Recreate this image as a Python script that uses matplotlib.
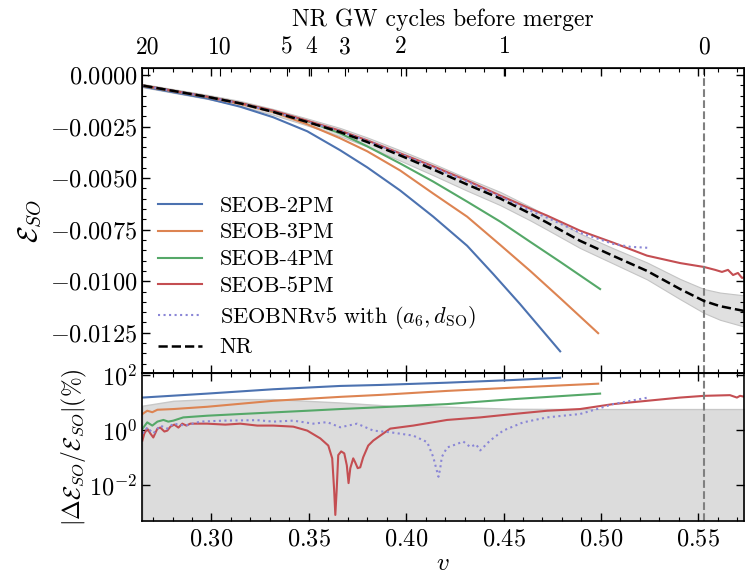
import matplotlib
matplotlib.use("Agg")
import matplotlib.pyplot as plt
from matplotlib.ticker import MultipleLocator, FixedLocator, NullLocator
import numpy as np

plt.rcParams['font.family'] = 'serif'
plt.rcParams['font.serif'] = ['cmr10']
plt.rcParams['mathtext.fontset'] = 'cm'
plt.rcParams['axes.formatter.use_mathtext'] = True
plt.rcParams['axes.unicode_minus'] = True

# ---- top panel: E_SO(v) ----
v_nr = [0.2650, 0.2978, 0.3148, 0.3317, 0.3492, 0.3661, 0.3800, 0.3969, 0.4139, 0.4313,
        0.4483, 0.4637, 0.4724, 0.4893, 0.5063, 0.5237, 0.5407, 0.5530, 0.5612, 0.5740]
e_nr = [-0.00052, -0.00106, -0.00138, -0.00179, -0.00228, -0.00277, -0.00325, -0.00390, -0.00458, -0.00531,
        -0.00599, -0.00672, -0.00716, -0.00804, -0.00877, -0.00950, -0.01038, -0.01096, -0.01121, -0.01145]
e_nr_err = [0.00008, 0.00010, 0.00012, 0.00014, 0.00017, 0.00020, 0.00022, 0.00025, 0.00028, 0.00030,
            0.00032, 0.00033, 0.00034, 0.00035, 0.00037, 0.00041, 0.00049, 0.00058, 0.00066, 0.00076]

v_2pm = [0.2650, 0.2978, 0.3148, 0.3317, 0.3492, 0.3661, 0.3800, 0.3969, 0.4139, 0.4313, 0.4447, 0.4585, 0.4791]
e_2pm = [-0.00057, -0.00114, -0.00154, -0.00205, -0.00273, -0.00365, -0.00448, -0.00560, -0.00687, -0.00828,
         -0.00965, -0.01111, -0.01340]

v_3pm = [0.2650, 0.2978, 0.3148, 0.3317, 0.3492, 0.3661, 0.3800, 0.3969, 0.4139, 0.4313, 0.4483, 0.4637, 0.4791, 0.4986]
e_3pm = [-0.00054, -0.00107, -0.00141, -0.00180, -0.00239, -0.00307, -0.00370, -0.00463, -0.00575, -0.00687,
         -0.00824, -0.00950, -0.01082, -0.01252]

v_4pm = [0.2650, 0.2978, 0.3148, 0.3317, 0.3492, 0.3661, 0.3800, 0.3969, 0.4139, 0.4313, 0.4483, 0.4637, 0.4791, 0.4996]
e_4pm = [-0.00051, -0.00105, -0.00136, -0.00175, -0.00224, -0.00283, -0.00346, -0.00429, -0.00517, -0.00614,
         -0.00711, -0.00809, -0.00906, -0.01038]

v_5pm = [0.2650, 0.2978, 0.3148, 0.3317, 0.3492, 0.3661, 0.3800, 0.3969, 0.4139, 0.4313, 0.4483, 0.4637, 0.4724,
         0.4893, 0.5063, 0.5237, 0.5407, 0.5530, 0.5587, 0.5622, 0.5653, 0.5679, 0.5704, 0.5725, 0.5740]
e_5pm = [-0.00051, -0.00105, -0.00136, -0.00173, -0.00222, -0.00270, -0.00317, -0.00380, -0.00443, -0.00512,
         -0.00585, -0.00648, -0.00682, -0.00755, -0.00813, -0.00876, -0.00912, -0.00931, -0.00945, -0.00955,
         -0.00945, -0.00970, -0.00960, -0.00984, -0.00980]

v_v5 = [0.2650, 0.2978, 0.3148, 0.3317, 0.3492, 0.3661, 0.3800, 0.3969, 0.4139, 0.4313, 0.4483, 0.4637, 0.4724,
        0.4893, 0.5063, 0.5150, 0.5242]
e_v5 = [-0.00052, -0.00106, -0.00138, -0.00178, -0.00227, -0.00273, -0.00319, -0.00383, -0.00448, -0.00517,
        -0.00590, -0.00658, -0.00692, -0.00765, -0.00819, -0.00833, -0.00838]

# ---- bottom panel: relative difference (%) ----
v_d2 = [0.2645, 0.2978, 0.3317, 0.3661, 0.3867, 0.4210, 0.4549, 0.4791]
d_2pm = [14.8, 20.6, 29.6, 39.0, 42.4, 51.2, 64.0, 77.4]

v_d3 = [0.2645, 0.2670, 0.2696, 0.2722, 0.2804, 0.2978, 0.3317, 0.3661, 0.3867, 0.4210, 0.4549, 0.4986]
d_3pm = [3.75, 4.93, 4.36, 5.36, 5.68, 6.87, 11.3, 15.7, 18.5, 25.8, 33.9, 47.1]

v_d4 = [0.2645, 0.2670, 0.2696, 0.2722, 0.2753, 0.2778, 0.2804, 0.2855, 0.2978, 0.3148, 0.3317, 0.3492,
        0.3661, 0.3918, 0.4210, 0.4549, 0.4996]
d_4pm = [1.09, 1.87, 1.43, 1.99, 2.29, 1.99, 2.16, 2.83, 3.26, 3.75, 4.29, 4.93, 5.68, 6.87, 8.59, 12.97, 20.6]

v_d5 = [0.2645, 0.2655, 0.2670, 0.2686, 0.2701, 0.2722, 0.2737, 0.2758, 0.2773, 0.2789, 0.2809, 0.2830,
        0.2850, 0.2871, 0.2891, 0.2978, 0.3071, 0.3148, 0.3235, 0.3317, 0.3420, 0.3492, 0.3559, 0.3600,
        0.3620, 0.3630, 0.3636, 0.3643, 0.3651, 0.3666, 0.3682, 0.3695, 0.3704, 0.3713, 0.3728, 0.3738,
        0.3751, 0.3764, 0.3779, 0.3805, 0.3831, 0.3867, 0.3918, 0.4036, 0.4210, 0.4380, 0.4549, 0.4724,
        0.4893, 0.5063, 0.5237, 0.5407, 0.5530, 0.5663, 0.5699, 0.5715, 0.5740]
d_5pm = [0.41, 0.74, 1.11, 0.74, 0.53, 1.11, 1.21, 0.87, 0.94, 1.31, 1.55, 1.21,
         1.68, 1.43, 1.68, 1.68, 1.55, 1.68, 1.43, 1.43, 1.31, 0.94, 0.49, 0.27,
         0.093, 0.0066, 0.00083, 0.0066, 0.122, 0.166, 0.141, 0.052, 0.0118, 0.041, 0.093, 0.067,
         0.041, 0.044, 0.101, 0.27, 0.41, 0.62, 1.11, 1.43, 2.29, 2.83, 3.75, 4.93,
         5.68, 8.59, 11.3, 14.8, 17.1, 18.1, 14.8, 17.1, 15.7]

v_dv5 = [0.2645, 0.2670, 0.2701, 0.2737, 0.2773, 0.2804, 0.2866, 0.2942, 0.3061, 0.3235, 0.3317, 0.3420,
         0.3523, 0.3594, 0.3661, 0.3748, 0.3831, 0.3918, 0.4036, 0.4108, 0.4139, 0.4154, 0.4166, 0.4175,
         0.4183, 0.4210, 0.4262, 0.4293, 0.4329, 0.4359, 0.4380, 0.4431, 0.4498, 0.4601, 0.4724, 0.4806,
         0.4893, 0.4980, 0.5063, 0.5242]
d_v5 = [0.74, 1.21, 0.74, 1.43, 1.11, 1.68, 1.43, 1.99, 2.16, 2.25, 1.99, 2.16,
        1.68, 1.91, 1.24, 1.68, 0.94, 0.82, 0.62, 0.36, 0.104, 0.041, 0.020, 0.041,
        0.104, 0.23, 0.31, 0.38, 0.24, 0.30, 0.18, 0.41, 0.94, 1.87, 2.83, 3.26,
        3.75, 5.68, 8.59, 14.8]

v_band = [0.2645, 0.2804, 0.2978, 0.3317, 0.3661, 0.3918, 0.4210, 0.4549, 0.4893, 0.5740]
d_band = [7.5, 11.3, 13.0, 13.0, 9.8, 7.5, 6.9, 5.8, 5.68, 5.68]

# top axis: NR GW cycles before merger
cycle_v = [0.2674, 0.3045, 0.3389, 0.3512, 0.3687, 0.3972, 0.4506, 0.5532]
cycle_labels = ['20', '10', '5', '4', '3', '2', '1', '0']
v_merger = 0.5532

colors = ['#4C72B0', '#DD8452', '#55A868', '#C44E52']
v5_color = '#8a86d6'

fig = plt.figure(figsize=(7.45, 5.78), dpi=100)
ax1 = fig.add_axes([0.1906, 0.3547, 0.808, 0.5277])
ax2 = fig.add_axes([0.1906, 0.0986, 0.808, 0.2561], sharex=ax1)

e_nr_a = np.array(e_nr)
err_a = np.array(e_nr_err)
ax1.fill_between(v_nr, e_nr_a - err_a, e_nr_a + err_a, color='#e0e0e0', edgecolor='#c4c4c4', lw=0.8, zorder=1)
ax1.plot(v_2pm, e_2pm, color=colors[0], lw=1.5, label='SEOB-2PM')
ax1.plot(v_3pm, e_3pm, color=colors[1], lw=1.5, label='SEOB-3PM')
ax1.plot(v_4pm, e_4pm, color=colors[2], lw=1.5, label='SEOB-4PM')
ax1.plot(v_5pm, e_5pm, color=colors[3], lw=1.5, label='SEOB-5PM')
ax1.plot(v_v5, e_v5, color=v5_color, lw=1.5, ls=':', label=r'SEOBNRv5 with $(a_6, d_{\rm SO})$')
ax1.plot(v_nr, e_nr, color='black', lw=1.8, ls='--', label='NR', zorder=5)
ax1.axvline(v_merger, color='gray', ls='--', lw=1.5)

ax1.set_xlim(0.2643, 0.5735)
ax1.set_ylim(-0.01445, 0.00034)
ax1.yaxis.set_major_locator(MultipleLocator(0.0025))
ax1.yaxis.set_minor_locator(MultipleLocator(0.0005))
ax1.xaxis.set_major_locator(MultipleLocator(0.05))
ax1.xaxis.set_minor_locator(MultipleLocator(0.01))
ax1.set_ylabel(r'$\mathcal{E}_{SO}$', fontsize=20, labelpad=4)
ax1.tick_params(labelbottom=False)
ax1.legend(loc='lower left', frameon=False, prop={'size': 16}, handlelength=2.0,
           labelspacing=0.33, borderaxespad=0.3, bbox_to_anchor=(0.0, 0.0))

axt = ax1.twiny()
axt.set_xlim(ax1.get_xlim())
axt.xaxis.set_major_locator(FixedLocator(cycle_v))
axt.set_xticklabels(cycle_labels)
axt.xaxis.set_minor_locator(NullLocator())
axt.set_xlabel('NR GW cycles before merger', fontsize=17, labelpad=7)
axt.tick_params(axis='x', direction='in', length=6, labelsize=17, pad=7)

ax2.fill_between(v_band, 1e-6, d_band, color='#dcdcdc', edgecolor='#c8c8c8', lw=1.0, zorder=1)
ax2.plot(v_d2, d_2pm, color=colors[0], lw=1.5)
ax2.plot(v_d3, d_3pm, color=colors[1], lw=1.5)
ax2.plot(v_d4, d_4pm, color=colors[2], lw=1.5)
ax2.plot(v_d5, d_5pm, color=colors[3], lw=1.5)
ax2.plot(v_dv5, d_v5, color=v5_color, lw=1.5, ls=':')
ax2.axvline(v_merger, color='gray', ls='--', lw=1.5)
ax2.set_yscale('log')
ax2.set_ylim(5e-4, 115)
ax2.yaxis.set_major_locator(FixedLocator([1e-2, 1e0, 1e2]))
ax2.yaxis.set_minor_locator(NullLocator())
ax2.set_xlabel(r'$v$', fontsize=18, labelpad=2)
ax2.set_ylabel(r'$|\Delta\mathcal{E}_{SO}/\mathcal{E}_{SO}|(\%)$', fontsize=17, labelpad=0)

for ax in (ax1, ax2):
    ax.tick_params(which='both', direction='in', top=True, right=True, labelsize=17.5)
    ax.tick_params(which='major', length=6, width=1)
    ax.tick_params(which='minor', length=3, width=0.8)
    for s in ax.spines.values():
        s.set_linewidth(1.2)
ax2.tick_params(axis='x', pad=5)

fig.savefig('out.png', dpi=100)
